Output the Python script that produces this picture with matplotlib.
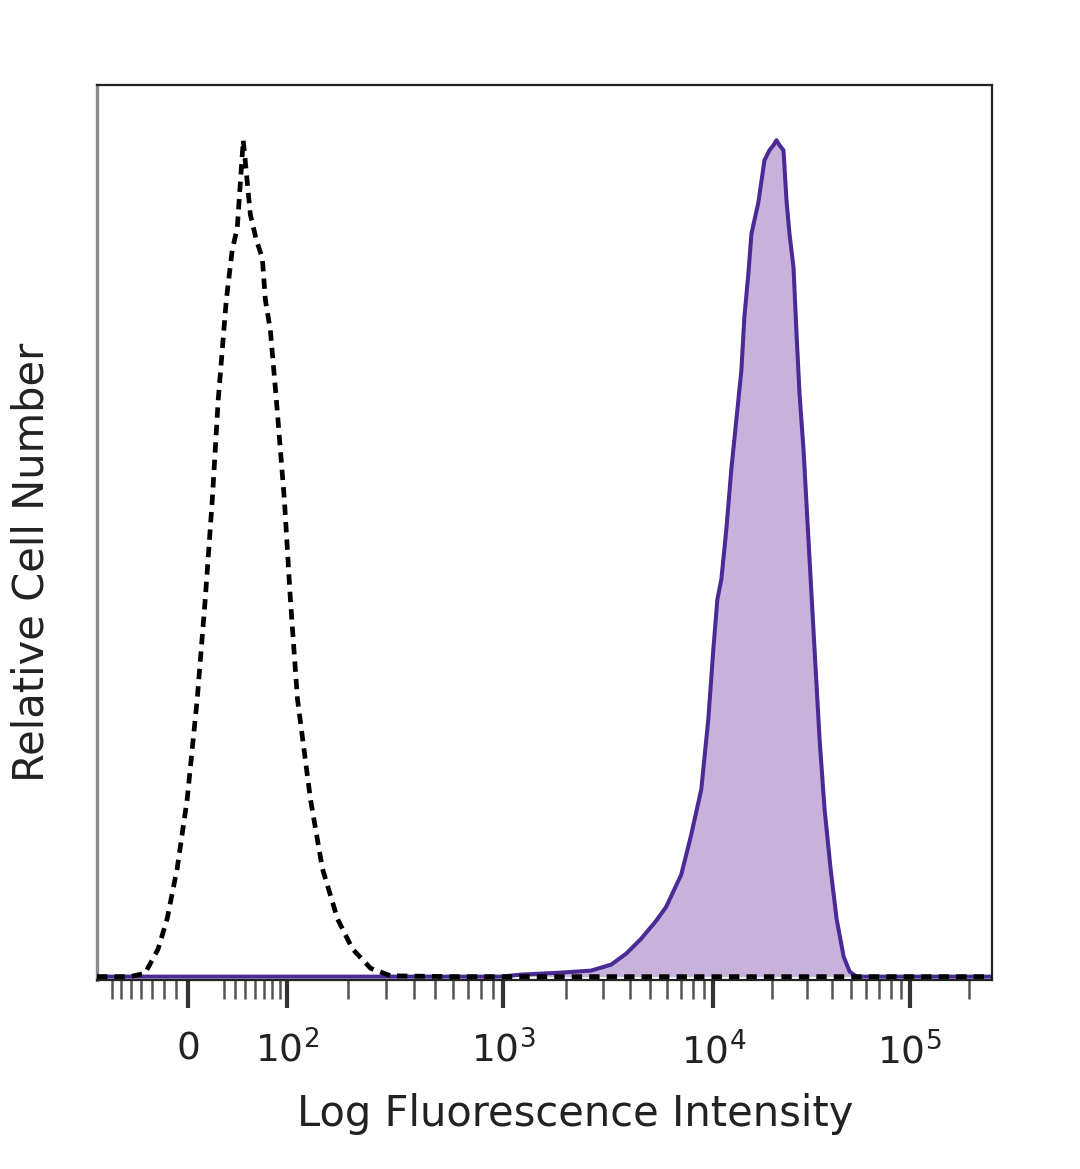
"""
Overlay histogram of a stained sample (filled) against its control
(dashed), drawn on a biexponential fluorescence axis.

Saves out.png (1080 x 1169 px).
"""

import matplotlib

matplotlib.use("Agg")
import matplotlib.pyplot as plt
import numpy as np

# ── Data (y = % of peak) ───────────────────────────────────────────────────
control_x = [-89, -51, -36.6, -25.0, -17.3, -9.0, -0.8, 7.4, 14.0, 19.9,
             25.0, 32.1, 37.5, 42.2, 48.0, 55.2, 61.5, 68.2, 71.7, 77.6,
             85.1, 95.8, 103.8, 113.1, 131.8, 151.1, 178.6, 210.2, 254.8, 314.6,
             586, 2930, 28126, 262144]
control_y = [0, 0, 0.4, 3.3, 6.9, 12.9, 21.2, 33.2, 45.1, 57.0,
             69.0, 80.9, 86.9, 89.5, 100, 91.1, 88.1, 85.9, 80.9, 77.3,
             69.0, 57.0, 45.1, 33.2, 21.2, 12.9, 6.9, 3.3, 1.0, 0.1,
             0, 0, 0, 0]

stained_x = [-89, 980, 1219, 1890, 2626, 3270, 3854, 4542, 5354, 5974,
             7042, 7858, 8768, 9468, 10000, 10483, 10988, 11650, 12355, 13101,
             13895, 14393, 15087, 15628, 16967, 18206, 19309, 20237, 20962, 21714,
             22759, 23576, 24423, 25595, 26514, 27465, 28787, 30890, 32760, 34741,
             36842, 39532, 42420, 46058, 49420, 53655, 262144]
stained_y = [0, 0, 0.24, 0.48, 0.72, 1.43, 2.74, 4.53, 6.68, 8.35,
             12.2, 17.0, 22.4, 30.8, 39.1, 45.1, 47.5, 53.5, 60.7, 66.6,
             72.5, 78.9, 84.1, 88.8, 92.6, 97.6, 98.8, 99.4, 100, 99.4,
             98.8, 92.8, 88.8, 84.8, 76.9, 69.7, 63.0, 49.9, 39.1, 28.4,
             20.0, 12.9, 6.9, 2.4, 0.6, 0, 0]

major_ticks = [0, 1e2, 1e3, 1e4, 1e5]
major_labels = ["0", r"$10^{2}$", r"$10^{3}$", r"$10^{4}$", r"$10^{5}$"]

x_label = "Log Fluorescence Intensity"
y_label = "Relative Cell Number"

# Biexponential display: arcsinh with cofactor, stretched so each decade
# lands where the cytometer software put it.
COFACTOR = 70.0
ANCHOR_VALUES = np.array([0, 1e2, 1e3, 1e4, 1e5])
ANCHOR_DISPLAY = np.array([0.0, 0.99, 3.14, 5.24, 7.20])
_ANCHOR_U = np.arcsinh(ANCHOR_VALUES / COFACTOR)


def _piecewise(x, xp, fp):
    """np.interp with linear extrapolation at both ends."""
    x = np.asarray(x, dtype=float)
    y = np.interp(x, xp, fp)
    lo_slope = (fp[1] - fp[0]) / (xp[1] - xp[0])
    hi_slope = (fp[-1] - fp[-2]) / (xp[-1] - xp[-2])
    y = np.where(x < xp[0], fp[0] + (x - xp[0]) * lo_slope, y)
    y = np.where(x > xp[-1], fp[-1] + (x - xp[-1]) * hi_slope, y)
    return y


def _fwd(v):
    u = np.arcsinh(np.asarray(v, dtype=float) / COFACTOR)
    return _piecewise(u, _ANCHOR_U, ANCHOR_DISPLAY)


def _inv(d):
    u = _piecewise(d, ANCHOR_DISPLAY, _ANCHOR_U)
    return COFACTOR * np.sinh(u)


def _minor_ticks() -> list[float]:
    ticks = [-v for v in range(10, 80, 10)] + list(range(30, 100, 10))
    for dec in (1e2, 1e3, 1e4):
        ticks += [m * dec for m in range(2, 10)]
    ticks.append(2e5)
    return ticks


def main() -> None:
    plt.rcParams["font.family"] = ["DejaVu Sans"]
    plt.rcParams["mathtext.default"] = "regular"

    fig = plt.figure(figsize=(10.8, 11.69), dpi=100)
    ax = fig.add_axes([0.0898, 0.1617, 0.8287, 0.7656])

    ax.set_xscale("function", functions=(_fwd, _inv))
    ax.set_xlim(-89, 262144)
    ax.set_ylim(-0.4, 106.6)

    # ── Stained sample: filled purple ──────────────────────────────────────
    ax.fill_between(stained_x, stained_y, 0, color="#c8b2db", lw=0, zorder=2)
    ax.plot(stained_x, stained_y, color="#4a2a95", lw=2.9, zorder=3,
            solid_joinstyle="round")

    # ── Control: dashed black ──────────────────────────────────────────────
    ax.plot(control_x, control_y, color="black", lw=3.4,
            linestyle=(0, (2.2, 1.5)), dash_capstyle="butt", zorder=4)

    # ── Axes cosmetics ─────────────────────────────────────────────────────
    ax.set_xticks(major_ticks)
    ax.set_xticklabels(major_labels)
    ax.set_xticks(_minor_ticks(), minor=True)
    ax.tick_params(axis="x", which="major", direction="out", length=20,
                   width=3, color="#333333", labelsize=27, pad=17,
                   labelcolor="#222222")
    ax.tick_params(axis="x", which="minor", direction="out", length=14,
                   width=1.8, color="#555555")
    ax.set_yticks([])

    for side, sp in ax.spines.items():
        sp.set_linewidth(1.6)
        sp.set_color("#222222")
    ax.spines["left"].set_color("#8a8a8a")
    ax.spines["left"].set_linewidth(2.4)

    ax.set_xlabel(x_label, fontsize=30, color="#222222")
    ax.xaxis.set_label_coords(0.534, -0.126)
    ax.set_ylabel(y_label, fontsize=30, color="#222222")
    ax.yaxis.set_label_coords(-0.050, 0.467)

    fig.savefig("out.png", dpi=100)
    plt.close(fig)


if __name__ == "__main__":
    main()
